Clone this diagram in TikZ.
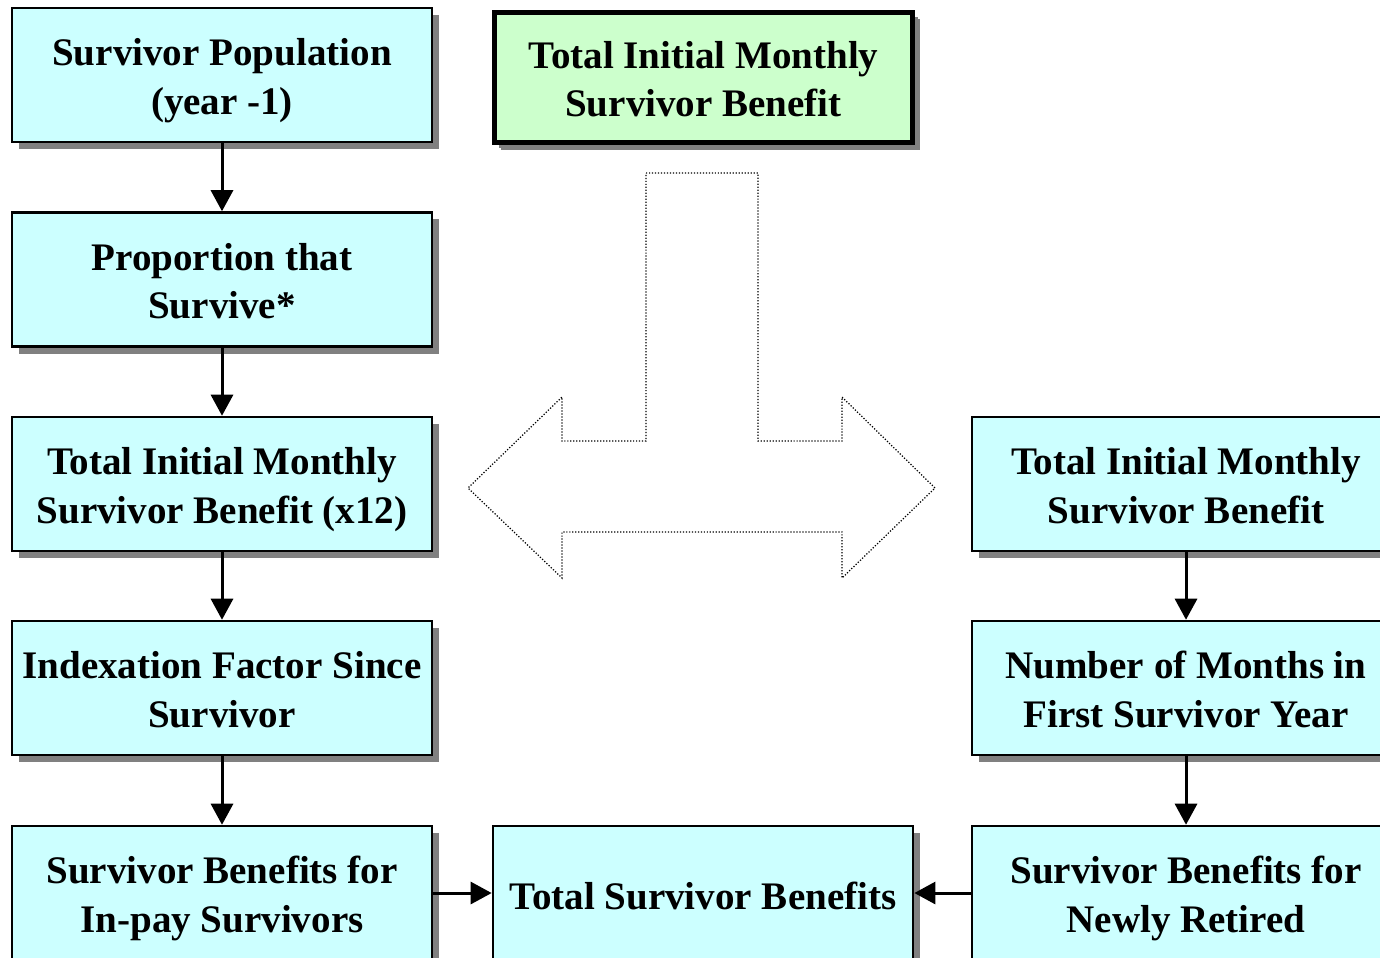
\documentclass[tikz,border=0pt]{standalone}
\usepackage{fontspec}
\setmainfont{Liberation Serif}
\usetikzlibrary{arrows.meta,shadows}
\definecolor{boxcyan}{HTML}{CCFFFF}
\definecolor{boxgreen}{HTML}{CCFFCC}
\definecolor{shadegray}{HTML}{808080}
\newcommand{\survbox}[4]{\node[cell] (#1) at (#2,#3) {#4};}

\begin{document}
\begin{tikzpicture}[x=0.01cm,y=-0.01cm,
	cell/.style={draw, line width=0.7pt, fill=boxcyan, minimum width=4.2cm,
		minimum height=1.34cm, inner sep=0pt, align=center,
		text height=24.8pt, text depth=2.4pt,
		font=\fontsize{11.1}{13.9}\selectfont\bfseries,
		general shadow={fill=shadegray, shadow xshift=0.07cm, shadow yshift=-0.07cm}},
	link/.style={line width=0.85pt, -{Triangle[width=0.22cm,length=0.21cm]}}]
	\useasboundingbox (0,0) rectangle (1380,957);
	% left column
	\survbox{l1}{222}{75}{Survivor Population\\(year -1)}
	\survbox{l2}{222}{279.5}{Proportion that\\Survive*}
	\survbox{l3}{222}{484}{Total Initial Monthly\\Survivor Benefit (x12)}
	\survbox{l4}{222}{688}{Indexation Factor Since\\Survivor}
	\survbox{l5}{222}{893}{Survivor Benefits for\\In-pay Survivors}
	% right column
	\tikzset{cell/.append style={minimum width=4.28cm}}
	\survbox{r1}{1186}{484}{Total Initial Monthly\\Survivor Benefit}
	\survbox{r2}{1186}{688}{Number of Months in\\First Survivor Year}
	\survbox{r3}{1186}{893}{Survivor Benefits for\\Newly Retired}
	% middle
	\tikzset{cell/.append style={minimum width=4.2cm}}
	\node[cell, text height=11.5pt] (tot) at (703,893) {Total Survivor Benefits};
	\node[cell, fill=boxgreen, line width=1.5pt, minimum width=4.18cm,
		minimum height=1.3cm, general shadow={fill=shadegray, shadow xshift=0.05cm,
		shadow yshift=-0.05cm}] (top) at (703.5,77.5)
		{Total Initial Monthly\\Survivor Benefit};
	\foreach \a/\b in {l1/l2,l2/l3,l3/l4,l4/l5,r1/r2,r2/r3} {
		\draw[link] (\a) -- (\b);
	}
	\draw[link] (l5) -- (tot);
	\draw[link] (r3) -- (tot);
	% split arrow
	\draw[line width=0.35pt, dash pattern=on 0.35pt off 0.5pt]
		(646,173) -- (758,173) -- (758,441) -- (842,441) -- (842,397)
		-- (935,488) -- (842,578) -- (842,532) -- (562,532) -- (562,578)
		-- (468,488) -- (562,397) -- (562,441) -- (646,441) -- cycle;
\end{tikzpicture}
\end{document}
